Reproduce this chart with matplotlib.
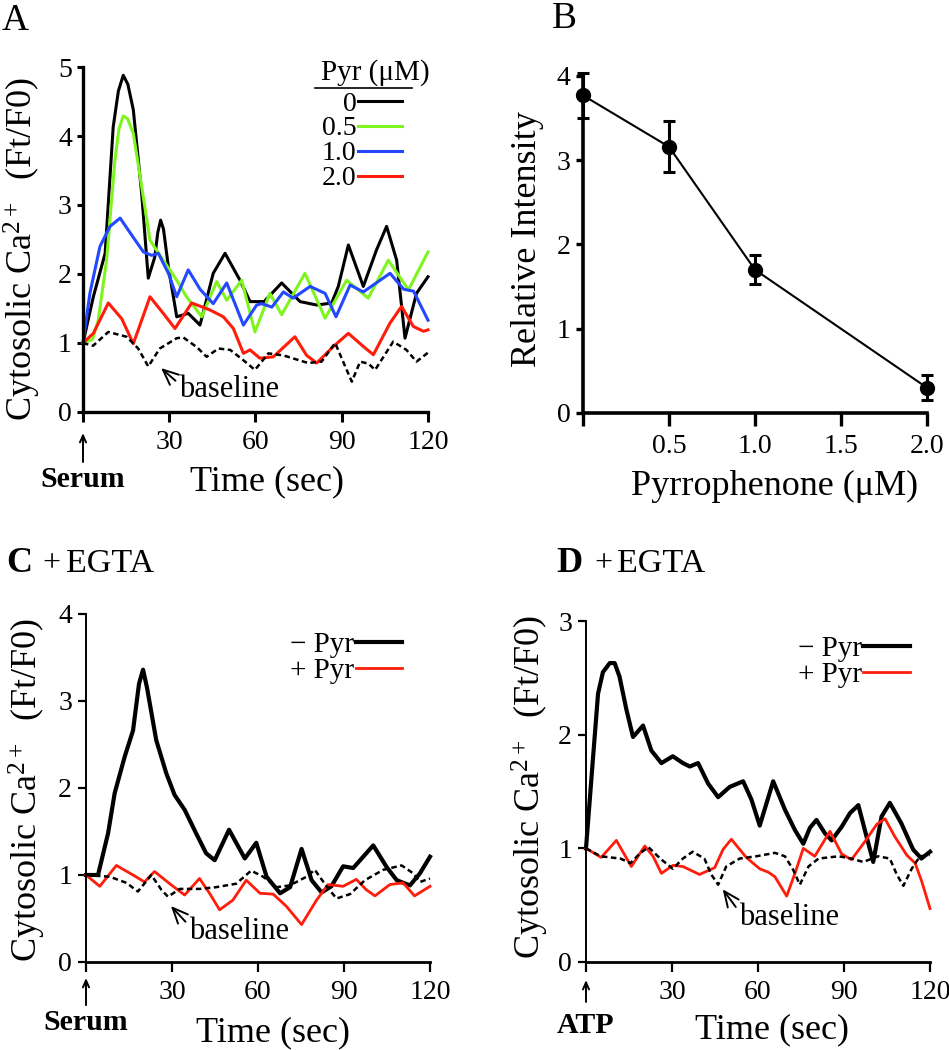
import matplotlib
matplotlib.use('Agg')
import matplotlib.pyplot as plt
from matplotlib.transforms import blended_transform_factory

plt.rcParams['font.family'] = ['Liberation Serif', 'DejaVu Serif']
plt.rcParams['mathtext.fontset'] = 'custom'
plt.rcParams['mathtext.rm'] = 'Liberation Serif'
plt.rcParams['mathtext.it'] = 'Liberation Serif:italic'

# ---------------- data ----------------
# Panel A: serum response with pyrrophenone doses
t_a_black = [0, 3.6, 7.7, 10.5, 12.3, 14, 15.6, 17.5, 20.4, 22.7, 25, 26, 27, 28, 29.7, 32.6, 36.6,
             40.7, 45.3, 49.4, 54.6, 58.1, 63, 69.1, 75.5, 81.3, 86.5, 88.8, 92.3, 97.5, 102.1,
             105.6, 109.1, 112, 116, 120]
ca_a_black = [1.0, 1.67, 2.3, 4.13, 4.65, 4.88, 4.75, 4.38, 3.17, 1.94, 2.25, 2.6, 2.78, 2.65, 2.1,
              1.38, 1.43, 1.26, 2.01, 2.3, 1.91, 1.6, 1.6, 1.87, 1.6, 1.55, 1.58, 1.82, 2.42, 1.82,
              2.35, 2.69, 2.2, 1.07, 1.72, 1.96]

t_a_green = [0, 3.3, 5.3, 8.2, 11.1, 12.5, 14, 15.5, 17.5, 20.4, 23.3, 27.9, 32.6, 36, 41.3, 46.5,
             50, 55.2, 59.8, 65, 69.1, 77.2, 84.2, 91.7, 99.2, 106.2, 113.2, 120]
ca_a_green = [1.0, 1.05, 1.33, 2.2, 3.65, 4.1, 4.29, 4.25, 4.04, 3.27, 2.49, 2.2, 1.91, 1.67, 1.38,
              1.89, 1.62, 1.91, 1.16, 1.72, 1.41, 2.01, 1.36, 1.91, 1.65, 2.2, 1.77, 2.32]

t_a_blue = [0, 2.4, 5.9, 9.4, 12.9, 17.5, 21, 23.9, 26.2, 29.7, 32.6, 36.6, 40.7, 45.3, 50, 55.8,
            60.4, 62.2, 65.7, 69.7, 73.1, 79, 84.2, 88, 92.9, 97.5, 106.8, 111.5, 115, 120]
ca_a_blue = [1.0, 1.72, 2.4, 2.69, 2.81, 2.53, 2.32, 2.27, 2.3, 2.01, 1.67, 2.06, 1.78, 1.57, 1.87,
             1.26, 1.55, 1.57, 1.52, 1.74, 1.65, 1.82, 1.72, 1.38, 1.84, 1.74, 2.01, 1.78, 1.75, 1.33]

t_a_red = [0, 3.6, 8.8, 13.5, 17.5, 23.3, 27.9, 32, 37.8, 44.1, 48.8, 52.3, 55.8, 58.1, 61.5, 66.2,
           73.7, 77.8, 81.3, 87.1, 92.3, 97.5, 101, 106.8, 110.8, 114.9, 118.4, 120]
ca_a_red = [1.0, 1.14, 1.58, 1.35, 0.99, 1.67, 1.43, 1.21, 1.58, 1.48, 1.38, 1.21, 0.85, 0.9, 0.78,
            0.8, 1.09, 0.82, 0.71, 0.95, 1.14, 0.95, 0.83, 1.29, 1.53, 1.24, 1.17, 1.19]

t_a_base = [0, 3.5, 8.8, 15.2, 19.2, 22.7, 26.7, 32.6, 34.9, 39.6, 43, 47.1, 51.2, 55.8, 59.8, 64.5,
            69.7, 78.3, 83, 87.7, 91.2, 93.5, 96.4, 99.3, 101.6, 107.9, 112.5, 116, 120]
ca_a_base = [1.0, 0.96, 1.16, 1.09, 0.92, 0.66, 0.92, 1.07, 1.08, 0.94, 0.8, 0.92, 0.9, 0.75, 0.61,
             0.85, 0.82, 0.71, 0.73, 1.0, 0.66, 0.44, 0.73, 0.7, 0.61, 1.02, 0.9, 0.73, 0.86]

pyr_labels = ['0', '0.5', '1.0', '2.0']

# Panel B: dose response
pyr_conc = [0, 0.5, 1.0, 2.0]
rel_intensity = [3.77, 3.16, 1.70, 0.30]
rel_err = [0.27, 0.30, 0.17, 0.15]

# Panel C: serum + EGTA
t_c_minus = [0, 4.2, 7.7, 10, 13.5, 16.4, 18.5, 19.9, 21.3, 24.5, 28, 30.9, 34.4, 38.4, 41.9, 44.9,
             49.9, 55.4, 59.4, 63, 67.7, 71.2, 75.2, 78.7, 82.2, 85.6, 89.7, 93.2, 100.2, 104.9,
             108.4, 113, 116.5, 120]
ca_c_minus = [1.0, 1.0, 1.48, 1.94, 2.36, 2.66, 3.2, 3.36, 3.15, 2.55, 2.17, 1.92, 1.75, 1.48, 1.25,
              1.17, 1.52, 1.19, 1.37, 0.98, 0.79, 0.86, 1.3, 0.94, 0.8, 0.87, 1.1, 1.08, 1.34, 1.09,
              0.94, 0.88, 1.02, 1.21]

t_c_plus = [0, 4.8, 10.6, 16.4, 20.4, 23.9, 29.2, 34.4, 39.6, 43.1, 46.6, 51.2, 55.9, 60.7, 65.3,
            69.9, 75.2, 80.4, 84.4, 89.7, 94.3, 97.8, 100.8, 106, 110.6, 114.6, 120]
ca_c_plus = [1.0, 0.87, 1.11, 1.0, 0.92, 1.04, 0.9, 0.77, 0.96, 0.79, 0.6, 0.71, 0.94, 0.79, 0.78,
             0.64, 0.43, 0.71, 0.89, 0.87, 0.95, 0.83, 0.76, 0.89, 0.91, 0.76, 0.87]

t_c_base = [0, 8.3, 14.1, 18.1, 22.8, 26.3, 28.6, 32.7, 39.6, 45.4, 52.4, 57.6, 61.8, 66.5, 71.1,
            76.9, 79.8, 83.9, 87.4, 92.1, 97.3, 103.7, 110.1, 114.1, 116.5, 120]
ca_c_base = [1.0, 0.98, 0.91, 0.81, 1.0, 0.83, 0.75, 0.84, 0.84, 0.86, 0.9, 1.05, 0.98, 0.86, 0.88,
             0.98, 1.06, 0.87, 0.73, 0.78, 0.94, 1.06, 1.11, 1.02, 0.92, 0.96]

# Panel D: ATP + EGTA
t_d_minus = [0, 2.4, 4.2, 5.9, 8.3, 10, 11.7, 14.1, 16.4, 19.9, 22.8, 26.3, 30.3, 33.8, 36.2, 39.1,
             42.6, 46.1, 50.1, 54.8, 57.7, 60.6, 65.3, 69.4, 72.9, 75.8, 78.1, 80.4, 83.4, 85.7,
             89.2, 92.1, 95, 97.9, 100.2, 103.1, 106, 110, 114.1, 117, 120]
ca_d_minus = [1.0, 1.78, 2.36, 2.55, 2.63, 2.63, 2.51, 2.22, 1.98, 2.08, 1.86, 1.75, 1.81, 1.75,
              1.72, 1.75, 1.57, 1.45, 1.54, 1.59, 1.43, 1.2, 1.59, 1.34, 1.16, 1.04, 1.18, 1.25,
              1.13, 1.07, 1.19, 1.31, 1.38, 1.1, 0.88, 1.28, 1.4, 1.22, 0.99, 0.91, 0.97]

t_d_plus = [0, 5.3, 10.6, 15.8, 20.5, 23.4, 26.3, 30.3, 33.8, 39.6, 44.9, 47.8, 50.7, 55.9, 60.6,
            63.6, 65.9, 70, 72.9, 75.8, 79.8, 85.1, 89.2, 92.6, 97.3, 101.4, 104.3, 107.8, 111.9,
            114.8, 117.1, 120]
ca_d_plus = [1.0, 0.92, 1.07, 0.84, 1.02, 0.93, 0.78, 0.85, 0.84, 0.77, 0.83, 0.99, 1.08, 0.92,
             0.82, 0.79, 0.75, 0.58, 0.78, 1.0, 0.93, 1.15, 0.95, 0.9, 1.06, 1.21, 1.26, 1.1, 0.94,
             0.87, 0.71, 0.47]

t_d_base = [0, 5.1, 12, 15.5, 19, 21.8, 25.9, 30.3, 33.8, 37.2, 41.3, 43.7, 46.1, 48.9, 53.6, 59.4,
            65.9, 69.4, 72.3, 74.6, 77.6, 81.1, 88.1, 92.6, 96.7, 101.9, 106, 108.4, 110.7, 113.6,
            116.5, 120]
ca_d_base = [1.0, 0.93, 0.91, 0.87, 0.96, 1.01, 0.91, 0.82, 0.91, 0.97, 0.91, 0.77, 0.68, 0.84,
             0.91, 0.93, 0.96, 0.93, 0.81, 0.68, 0.84, 0.91, 0.93, 0.91, 0.88, 0.93, 0.91, 0.77,
             0.67, 0.82, 0.93, 0.94]

time_ticks = [0, 30, 60, 90, 120]
time_ticklabels = ['', '30', '60', '90', '120']
ylabel_ca = 'Cytosolic Ca$^{2+}$  (Ft/F0)'

green = '#7ff41e'
blue = '#2348ff'
red = '#ff1c0a'
dash = (0, (2.2, 1.4))

fig = plt.figure(figsize=(9.49, 10.5), dpi=100)
ax_a = fig.add_axes([0.08746, 0.60762, 0.36354, 0.32857])
ax_b = fig.add_axes([0.61433, 0.60667, 0.36249, 0.32095])
ax_c = fig.add_axes([0.09062, 0.08381, 0.36249, 0.33143])
ax_d = fig.add_axes([0.61749, 0.08381, 0.36249, 0.32476])

arrow_style = '->,head_length=0.5,head_width=0.22'


def style_axes(ax, spine_lw, xtick_len, ytick_len, tick_lw):
    for s in ['top', 'right']:
        ax.spines[s].set_visible(False)
    ax.spines['left'].set_linewidth(spine_lw[0])
    ax.spines['bottom'].set_linewidth(spine_lw[1])
    ax.tick_params(axis='x', direction='out', length=xtick_len, width=tick_lw, labelsize=20, pad=6)
    ax.tick_params(axis='y', direction='out', length=ytick_len, width=tick_lw, labelsize=20, pad=4)


def stim_marker(ax, label, tip, tail, ytext):
    trans = blended_transform_factory(ax.transData, ax.transAxes)
    ax.annotate('', xy=(0, tip), xytext=(0, tail), xycoords=trans, textcoords=trans,
                arrowprops=dict(arrowstyle=arrow_style, lw=1.4, color='k', shrinkA=0, shrinkB=0),
                annotation_clip=False)
    ax.text(0, ytext, label, transform=trans, ha='center', va='center', fontsize=21.5,
            fontweight='bold')


def baseline_note(ax, head, text_xy):
    ax.annotate('baseline', xy=head, xytext=text_xy, ha='left', va='center', fontsize=22,
                arrowprops=dict(arrowstyle=arrow_style, lw=1.4, color='k', relpos=(0, 0.7),
                                shrinkA=1, shrinkB=1))


# ---------------- A ----------------
ax = ax_a
la0, = ax.plot(t_a_black, ca_a_black, color='k', lw=2.2, clip_on=False)
la1, = ax.plot(t_a_green, ca_a_green, color=green, lw=2.2, clip_on=False)
la2, = ax.plot(t_a_blue, ca_a_blue, color=blue, lw=2.2, clip_on=False)
la3, = ax.plot(t_a_red, ca_a_red, color=red, lw=2.2, clip_on=False)
ax.plot(t_a_base, ca_a_base, color='k', lw=1.8, linestyle=dash, clip_on=False)
ax.set_xlim(0, 120)
ax.set_ylim(0, 5)
ax.set_xticks(time_ticks)
ax.set_xticklabels(time_ticklabels)
ax.set_yticks([0, 1, 2, 3, 4, 5])
style_axes(ax, (2.4, 2.4), 7, 4, 2.2)
ax.set_xlabel('Time (sec)', fontsize=26)
ax.xaxis.set_label_coords(0.533, -0.155)
ax.set_ylabel(ylabel_ca, fontsize=26)
ax.yaxis.set_label_coords(-0.115, 0.472)
stim_marker(ax, 'Serum', -0.061, -0.145, -0.197)
baseline_note(ax, (26.8, 0.65), (33.5, 0.32))
ax.text(1.006, 0.985, 'Pyr (\u03bcM)', transform=ax.transAxes, ha='right', va='center',
        fontsize=21)
ax.plot([0.672, 0.954], [0.939, 0.939], transform=ax.transAxes, color='k', lw=1.2,
        clip_on=False)
ax.legend([la0, la1, la2, la3], pyr_labels, loc='upper right', bbox_to_anchor=(0.925, 0.93),
          frameon=False, markerfirst=False, fontsize=20, handlelength=1.6, handletextpad=0.05,
          labelspacing=-0.02, borderpad=0, borderaxespad=0)

# ---------------- B ----------------
ax = ax_b
ax.errorbar(pyr_conc, rel_intensity, yerr=rel_err, color='k', lw=1.5, marker='o', markersize=10,
            capsize=4, elinewidth=2.2, capthick=2.2, clip_on=False, zorder=3)
ax.set_xlim(0, 2.0)
ax.set_ylim(0, 4)
ax.set_xticks([0, 0.5, 1.0, 1.5, 2.0])
ax.set_xticklabels(['', '0.5', '1.0', '1.5', '2.0'])
ax.set_yticks([0, 1, 2, 3, 4])
style_axes(ax, (2.6, 2.6), 9, 5, 2.4)
ax.set_xlabel('Pyrrophenone (\u03bcM)', fontsize=26)
ax.xaxis.set_label_coords(0.558, -0.17)
ax.set_ylabel('Relative Intensity', fontsize=26)
ax.yaxis.set_label_coords(-0.113, 0.516)

# ---------------- C ----------------
ax = ax_c
lc0, = ax.plot(t_c_minus, ca_c_minus, color='k', lw=3.0, clip_on=False)
lc1, = ax.plot(t_c_plus, ca_c_plus, color=red, lw=2.0, clip_on=False)
ax.plot(t_c_base, ca_c_base, color='k', lw=1.8, linestyle=dash, clip_on=False)
ax.set_xlim(0, 120)
ax.set_ylim(0, 4)
ax.set_xticks(time_ticks)
ax.set_xticklabels(time_ticklabels)
ax.set_yticks([0, 1, 2, 3, 4])
style_axes(ax, (1.4, 2.0), 7, 6, 1.6)
ax.set_xlabel('Time (sec)', fontsize=26)
ax.xaxis.set_label_coords(0.544, -0.155)
ax.set_ylabel(ylabel_ca, fontsize=26)
ax.yaxis.set_label_coords(-0.11, 0.494)
stim_marker(ax, 'Serum', -0.046, -0.124, -0.175)
baseline_note(ax, (29.3, 0.655), (36.0, 0.35))
ax.legend([lc0, lc1], ['\u2212 Pyr', '+ Pyr'], loc='upper right', bbox_to_anchor=(0.92, 0.95),
          frameon=False, markerfirst=False, fontsize=21, handlelength=1.6, handletextpad=0.05,
          labelspacing=0.0, borderpad=0, borderaxespad=0)

# ---------------- D ----------------
ax = ax_d
ld0, = ax.plot(t_d_minus, ca_d_minus, color='k', lw=3.0, clip_on=False)
ld1, = ax.plot(t_d_plus, ca_d_plus, color=red, lw=2.0, clip_on=False)
ax.plot(t_d_base, ca_d_base, color='k', lw=1.8, linestyle=dash, clip_on=False)
ax.set_xlim(0, 120)
ax.set_ylim(0, 3)
ax.set_xticks(time_ticks)
ax.set_xticklabels(time_ticklabels)
ax.set_yticks([0, 1, 2, 3])
style_axes(ax, (1.4, 2.0), 7, 6, 1.6)
ax.set_xlabel('Time (sec)', fontsize=26)
ax.xaxis.set_label_coords(0.54, -0.15)
ax.set_ylabel(ylabel_ca, fontsize=26)
ax.yaxis.set_label_coords(-0.101, 0.513)
stim_marker(ax, 'ATP', -0.053, -0.117, -0.185)
baseline_note(ax, (47.4, 0.65), (53.5, 0.39))
ax.legend([ld0, ld1], ['\u2212 Pyr', '+ Pyr'], loc='upper right', bbox_to_anchor=(0.942, 0.958),
          frameon=False, markerfirst=False, fontsize=21, handlelength=1.6, handletextpad=0.05,
          labelspacing=0.0, borderpad=0, borderaxespad=0)

# panel letters
fig.text(2 / 949, 1 - 30 / 1050, 'A', fontsize=27, va='baseline', ha='left')
fig.text(552 / 949, 1 - 28 / 1050, 'B', fontsize=27, va='baseline', ha='left')
fig.text(6 / 949, 1 - 572 / 1050, 'C', fontsize=26, fontweight='bold', va='baseline', ha='left')
fig.text(42 / 949, 1 - 571 / 1050, '+', fontsize=23, va='baseline', ha='left')
fig.text(66 / 949, 1 - 572 / 1050, 'EGTA', fontsize=24.5, va='baseline', ha='left')
fig.text(556 / 949, 1 - 572 / 1050, 'D', fontsize=26, fontweight='bold', va='baseline', ha='left')
fig.text(594 / 949, 1 - 571 / 1050, '+', fontsize=23, va='baseline', ha='left')
fig.text(617 / 949, 1 - 572 / 1050, 'EGTA', fontsize=24.5, va='baseline', ha='left')

fig.savefig('out.png', dpi=100)
